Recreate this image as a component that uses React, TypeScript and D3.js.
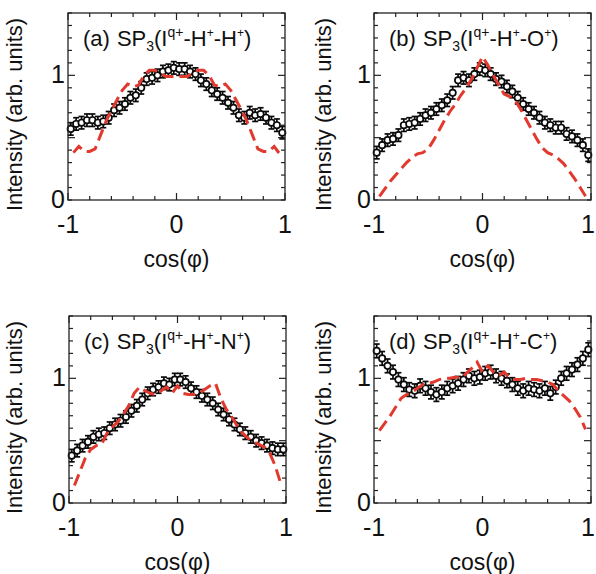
import React from "react";
import * as d3 from "d3";

// bin centres of the measured distributions
const cosBins = [
  -0.975, -0.925, -0.875, -0.825, -0.775, -0.725, -0.675, -0.625, -0.575, -0.525,
  -0.475, -0.425, -0.375, -0.325, -0.275, -0.225, -0.175, -0.125, -0.075, -0.025,
  0.025, 0.075, 0.125, 0.175, 0.225, 0.275, 0.325, 0.375, 0.425, 0.475,
  0.525, 0.575, 0.625, 0.675, 0.725, 0.775, 0.825, 0.875, 0.925, 0.975,
];

// sampling points of the simulated (red dashed) curves
const modelCos = [
  -0.95, -0.9, -0.85, -0.8, -0.75, -0.7, -0.65, -0.6, -0.55, -0.5,
  -0.45, -0.4, -0.35, -0.3, -0.25, -0.2, -0.15, -0.1, -0.05, 0.0,
  0.05, 0.1, 0.15, 0.2, 0.25, 0.3, 0.35, 0.4, 0.45, 0.5,
  0.55, 0.6, 0.65, 0.7, 0.75, 0.8, 0.85, 0.9, 0.95,
];

// (a) Iq+ - H+ - H+
const expA = [
  0.57, 0.61, 0.62, 0.64, 0.64, 0.62, 0.63, 0.66, 0.72, 0.74,
  0.77, 0.82, 0.84, 0.9, 0.97, 0.98, 1.0, 1.03, 1.04, 1.06,
  1.05, 1.05, 1.03, 1.01, 0.96, 0.93, 0.88, 0.85, 0.82, 0.78,
  0.74, 0.68, 0.66, 0.7, 0.68, 0.69, 0.66, 0.62, 0.6, 0.54,
];
const modelA = [
  0.38, 0.43, 0.39, 0.39, 0.41, 0.52, 0.63, 0.72, 0.8, 0.88,
  0.93, 0.91, 0.92, 1.0, 1.04, 1.04, 1.02, 0.99, 0.99, 0.99,
  0.99, 0.99, 1.02, 1.04, 1.04, 1.0, 0.92, 0.91, 0.93, 0.88,
  0.8, 0.72, 0.63, 0.52, 0.41, 0.39, 0.39, 0.43, 0.37,
];

// (b) Iq+ - H+ - O+
const expB = [
  0.38, 0.44, 0.48, 0.49, 0.52, 0.6, 0.61, 0.62, 0.65, 0.68,
  0.7, 0.73, 0.76, 0.8, 0.86, 0.96, 0.98, 0.96, 1.01, 1.05,
  1.04, 1.01, 0.97, 0.95, 0.91, 0.87, 0.82, 0.77, 0.73, 0.7,
  0.66, 0.62, 0.6, 0.58, 0.58, 0.53, 0.51, 0.48, 0.44, 0.36,
];
const modelB = [
  0.03, 0.09, 0.15, 0.2, 0.25, 0.3, 0.34, 0.37, 0.38, 0.41,
  0.48, 0.56, 0.64, 0.71, 0.77, 0.84, 0.9, 0.97, 1.06, 1.15,
  1.08, 1.0, 0.92, 0.85, 0.83, 0.8, 0.73, 0.65, 0.57, 0.49,
  0.42, 0.38, 0.36, 0.33, 0.29, 0.23, 0.17, 0.1, 0.03,
];

// (c) Iq+ - H+ - N+
const expC = [
  0.38, 0.42, 0.46, 0.49, 0.53, 0.55, 0.56, 0.6, 0.63, 0.66,
  0.69, 0.74, 0.78, 0.83, 0.88, 0.91, 0.93, 0.96, 0.95, 0.99,
  0.99, 0.97, 0.92, 0.89, 0.86, 0.83, 0.8, 0.75, 0.71, 0.67,
  0.63, 0.59, 0.56, 0.53, 0.5, 0.48, 0.46, 0.44, 0.43, 0.43,
];
const modelC = [
  0.14, 0.25, 0.36, 0.43, 0.46, 0.47, 0.56, 0.61, 0.65, 0.71,
  0.78, 0.88, 0.93, 0.9, 0.88, 0.87, 0.9, 0.93, 0.88, 0.94,
  0.88, 0.87, 0.87, 0.88, 0.91, 0.94, 0.96, 0.84, 0.75, 0.69,
  0.62, 0.56, 0.52, 0.49, 0.47, 0.45, 0.4, 0.3, 0.16,
];

// (d) Iq+ - H+ - C+
const expD = [
  1.22, 1.16, 1.1, 1.05, 0.99, 0.95, 0.91, 0.9, 0.94, 0.92,
  0.89, 0.87, 0.89, 0.92, 0.94, 0.96, 0.99, 1.02, 1.0, 1.01,
  1.04, 1.05, 1.02, 1.0, 0.98, 0.95, 0.92, 0.9, 0.92, 0.91,
  0.9, 0.92, 0.88, 0.93, 1.0, 1.04, 1.07, 1.11, 1.16, 1.23,
];
const modelD = [
  0.58, 0.64, 0.7, 0.77, 0.84, 0.87, 0.89, 0.92, 0.95, 0.96,
  0.97, 0.99, 1.0, 1.0, 1.01, 1.0, 1.04, 1.08, 1.13, 1.05,
  1.1, 1.05, 1.02, 1.05, 1.0, 0.99, 0.99, 1.0, 0.99, 0.99,
  0.98, 0.97, 0.95, 0.9, 0.86, 0.82, 0.76, 0.69, 0.59,
];

// typical statistical error of one bin
const errors = [0.05, 0.05, 0.05, 0.055];

const panelTags = ["(a)", "(b)", "(c)", "(d)"];
const thirdIon = ["H", "O", "N", "C"];
const xTickLabels = [-1, 0, 1];
const yTickLabels = [0, 1];

const font = "'Liberation Sans', Arial, Helvetica, sans-serif";
const FIG_W = 596;
const W = 217;
const H = 187;

function Panel({ left, top, idx, exp, model, err, yLabelDx }) {
  const x = d3.scaleLinear().domain([-1, 1]).range([0, W]);
  const y = d3.scaleLinear().domain([0, 1.5]).range([H, 0]);
  const line = d3
    .line<number>()
    .x((_, i) => x(modelCos[i]))
    .y((d) => y(d));

  const xMinor = x.ticks(10);
  const yMinor = y.ticks(15);

  return (
    <g transform={`translate(${left},${top})`} fontFamily={font} fill="#111">
      {/* ticks on all four sides, pointing inwards */}
      {xMinor.map((t) => {
        const len = xTickLabels.includes(Math.round(t * 10) / 10) ? 7 : 4;
        return (
          <g key={`x${t}`} stroke="#222" strokeWidth={1.2}>
            <line x1={x(t)} x2={x(t)} y1={H} y2={H - len} />
            <line x1={x(t)} x2={x(t)} y1={0} y2={len} />
          </g>
        );
      })}
      {yMinor.map((t) => {
        const r = Math.round(t * 10) / 10;
        const len = r === 0.5 || r === 1 ? 7 : 4;
        return (
          <g key={`y${t}`} stroke="#222" strokeWidth={1.2}>
            <line x1={0} x2={len} y1={y(t)} y2={y(t)} />
            <line x1={W} x2={W - len} y1={y(t)} y2={y(t)} />
          </g>
        );
      })}

      {/* measured points with error bars */}
      {exp.map((v, i) => {
        const cx = x(cosBins[i]);
        return (
          <g key={`p${i}`} stroke="#0a0a0a" strokeWidth={1.7}>
            <line x1={cx} x2={cx} y1={y(v + err)} y2={y(v - err)} />
            <line x1={cx - 3} x2={cx + 3} y1={y(v + err)} y2={y(v + err)} />
            <line x1={cx - 3} x2={cx + 3} y1={y(v - err)} y2={y(v - err)} />
            <circle cx={cx} cy={y(v)} r={3.2} fill="#fff" />
          </g>
        );
      })}

      {/* simulation */}
      <path
        d={line(model) ?? ""}
        fill="none"
        stroke="#e2392f"
        strokeWidth={3}
        strokeDasharray="12,6"
      />

      <rect x={0} y={0} width={W} height={H} fill="none" stroke="#222" strokeWidth={1.3} />

      {/* tick labels */}
      {xTickLabels.map((t) => (
        <text
          key={`xl${t}`}
          x={Math.min(x(t), FIG_W - left - 8)}
          y={H + 33}
          fontSize={25}
          textAnchor="middle"
        >
          {t === -1 ? "-1" : String(t)}
        </text>
      ))}
      {yTickLabels.map((t) => (
        <text key={`yl${t}`} x={-3} y={y(t) + 8} fontSize={25} textAnchor="end">
          {t}
        </text>
      ))}

      {/* axis titles */}
      <text x={W / 2} y={H + 67} fontSize={23} textAnchor="middle">
        cos(φ)
      </text>
      <text
        transform={`translate(${yLabelDx},${H / 2 + 8}) rotate(-90)`}
        fontSize={22}
        textAnchor="middle"
      >
        Intensity (arb. units)
      </text>

      {/* panel title */}
      <text x={15} y={33} fontSize={22}>
        {panelTags[idx]}
        <tspan dx={7}>SP</tspan>
        <tspan dy={5} fontSize={14}>3</tspan>
        <tspan dy={-5}>(I</tspan>
        <tspan dy={-9} fontSize={14}>q+</tspan>
        <tspan dy={9}>-H</tspan>
        <tspan dy={-9} fontSize={12}>+</tspan>
        <tspan dy={9}>-{thirdIon[idx]}</tspan>
        <tspan dy={-9} fontSize={12}>+</tspan>
        <tspan dy={9}>)</tspan>
      </text>
    </g>
  );
}

export default function App() {
  return (
    <svg
      width={FIG_W}
      height={574}
      style={{ position: "absolute", left: 0, top: 0, background: "#fff" }}
    >
      <rect width={FIG_W} height={574} fill="#fff" />
      <Panel left={68} top={13} idx={0} exp={expA} model={modelA} err={errors[0]} yLabelDx={-46} />
      <Panel left={374} top={13} idx={1} exp={expB} model={modelB} err={errors[1]} yLabelDx={-43} />
      <Panel left={69} top={316} idx={2} exp={expC} model={modelC} err={errors[2]} yLabelDx={-47} />
      <Panel left={374} top={316} idx={3} exp={expD} model={modelD} err={errors[3]} yLabelDx={-43} />
    </svg>
  );
}
